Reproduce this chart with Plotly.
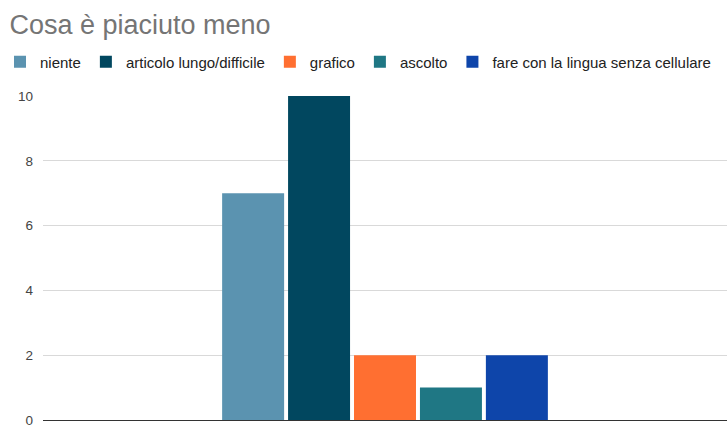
import plotly.graph_objects as go

# Survey answers: "what did you like least"
categories = [""]
series_names = ["niente", "articolo lungo/difficile", "grafico", "ascolto",
                "fare con la lingua senza cellulare"]
series_values = [7, 10, 2, 1, 2]
series_colors = ["#5B93B0", "#01475F", "#FF6F31", "#1F7784", "#0E45AA"]
y_ticks = [0, 2, 4, 6, 8, 10]

FONT = "Liberation Sans, Arial, sans-serif"
W, H = 727, 425
ML, MT, MB = 43, 96, 5
PLOT_W, PLOT_H = W - ML, H - MT - MB

fig = go.Figure()
for name, val, col in zip(series_names, series_values, series_colors):
    fig.add_trace(go.Bar(
        name=name, x=categories, y=[val],
        marker=dict(color=col, line=dict(width=0)),
    ))

fig.update_layout(
    width=W, height=H,
    margin=dict(l=ML, r=0, t=MT, b=MB, autoexpand=False),
    paper_bgcolor="white", plot_bgcolor="white",
    font=dict(family=FONT, color="#222222"),
    title=dict(text="Cosa è piaciuto meno", x=0.013, xanchor="left",
               y=1 - 25 / H, yanchor="middle",
               font=dict(size=27, color="#757575", family=FONT)),
    barmode="group", bargap=0.518, bargroupgap=0.06,
    showlegend=True,
    # legend sits in the top margin, spanning the full figure width
    legend=dict(orientation="h", x=-ML / PLOT_W, xanchor="left",
                y=1 + (MT - 62) / PLOT_H, yanchor="middle",
                font=dict(size=15, color="#222222", family=FONT),
                itemwidth=30, traceorder="normal", bgcolor="rgba(0,0,0,0)"),
    xaxis=dict(showticklabels=False, showgrid=False, zeroline=False,
               showline=False, ticks=""),
    yaxis=dict(range=[0, 10], tickvals=y_ticks, showgrid=True,
               gridcolor="#D9D9D9", gridwidth=1, zeroline=True,
               zerolinecolor="#333333", zerolinewidth=1, showline=False,
               ticks="", ticklabelstandoff=9, ticklabeloverflow="allow",
               tickfont=dict(size=13.5, color="#444444", family=FONT)),
)

fig.write_html("out.html")
